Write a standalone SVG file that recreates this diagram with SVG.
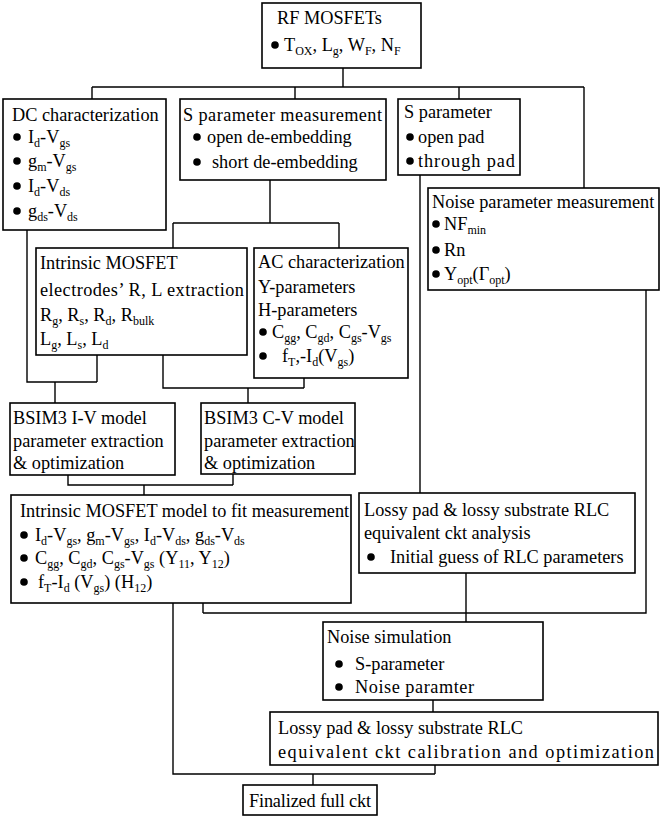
<svg xmlns="http://www.w3.org/2000/svg" width="662" height="818" viewBox="0 0 662 818">
<style>
text{font-family:"Liberation Serif","Times New Roman",serif;font-size:18.3px;fill:#000}
.s{font-size:12px}
.b{fill:#000;stroke:none}
rect{fill:#fff;stroke:#000;stroke-width:1.6}
#connectors path{fill:none;stroke:#000;stroke-width:1.4}
</style>
<defs><circle id="dot" class="b" r="3.8" cx="0" cy="0"/></defs>
<rect x="0" y="0" width="662" height="818" style="stroke:none"/>
<g id="connectors">
<path d="M343,68V87M92,87H584M92,87V99M295,87V99M459,87V99M584,87V188"/>
<path d="M270,180V223M173,223H339M173,223V248M339,223V248"/>
<path d="M420,175V493"/>
<path d="M646,290V613H203M203,603V613M466,573V622"/>
<path d="M433,700V712"/>
<path d="M27,230V382H97M97,355V382M55,382V403"/>
<path d="M163,355V388H304M304,378V388M248,388V403"/>
<path d="M68,475V485H233M233,473V485M144,485V495"/>
<path d="M173,603V774H435M435,765V774M313,774V785"/>
</g>
<g id="rf">
<rect x="262" y="3" width="159" height="65"/>
<text x="277" y="24">RF MOSFETs</text>
<use href="#dot" x="275" y="45"/>
<text x="284" y="51">T<tspan class="s" dy="4">OX</tspan><tspan dy="-4">, L</tspan><tspan class="s" dy="4">g</tspan><tspan dy="-4">, W</tspan><tspan class="s" dy="4">F</tspan><tspan dy="-4">, N</tspan><tspan class="s" dy="4">F</tspan></text>
</g>
<g id="dc">
<rect x="3" y="99" width="163" height="131"/>
<text x="12" y="121">DC characterization</text>
<use href="#dot" x="17" y="137"/>
<text x="28" y="143">I<tspan class="s" dy="4">d</tspan><tspan dy="-4">-V</tspan><tspan class="s" dy="4">gs</tspan></text>
<use href="#dot" x="17" y="161"/>
<text x="28" y="167">g<tspan class="s" dy="4">m</tspan><tspan dy="-4">-V</tspan><tspan class="s" dy="4">gs</tspan></text>
<use href="#dot" x="17" y="186"/>
<text x="28" y="192">I<tspan class="s" dy="4">d</tspan><tspan dy="-4">-V</tspan><tspan class="s" dy="4">ds</tspan></text>
<use href="#dot" x="17" y="211"/>
<text x="28" y="217">g<tspan class="s" dy="4">ds</tspan><tspan dy="-4">-V</tspan><tspan class="s" dy="4">ds</tspan></text>
</g>
<g id="smeas">
<rect x="180" y="99" width="206" height="81"/>
<text x="183" y="121" textLength="199" lengthAdjust="spacing">S parameter measurement</text>
<use href="#dot" x="197" y="137"/>
<text x="207" y="143">open de-embedding</text>
<use href="#dot" x="197" y="162"/>
<text x="212" y="168">short de-embedding</text>
</g>
<g id="spar">
<rect x="398" y="99" width="122" height="76"/>
<text x="404" y="118">S parameter</text>
<use href="#dot" x="410" y="137"/>
<text x="418" y="143">open pad</text>
<use href="#dot" x="410" y="161"/>
<text x="418" y="167" textLength="97" lengthAdjust="spacing">through pad</text>
</g>
<g id="noise">
<rect x="428" y="188" width="231" height="102"/>
<text x="432" y="208">Noise parameter measurement</text>
<use href="#dot" x="436" y="224"/>
<text x="444" y="230">NF<tspan class="s" dy="4">min</tspan></text>
<use href="#dot" x="436" y="250"/>
<text x="444" y="256">Rn</text>
<use href="#dot" x="436" y="274"/>
<text x="444" y="280">Y<tspan class="s" dy="4">opt</tspan><tspan dy="-4">(Γ</tspan><tspan class="s" dy="4">opt</tspan><tspan dy="-4">)</tspan></text>
</g>
<g id="intrinsic">
<rect x="36" y="248" width="211" height="107"/>
<text x="40" y="269">Intrinsic MOSFET</text>
<text x="40" y="296" textLength="204" lengthAdjust="spacing">electrodes’  R, L extraction</text>
<text x="40" y="321">R<tspan class="s" dy="4">g</tspan><tspan dy="-4">, R</tspan><tspan class="s" dy="4">s</tspan><tspan dy="-4">, R</tspan><tspan class="s" dy="4">d</tspan><tspan dy="-4">, R</tspan><tspan class="s" dy="4">bulk</tspan></text>
<text x="40" y="345">L<tspan class="s" dy="4">g</tspan><tspan dy="-4">, L</tspan><tspan class="s" dy="4">s</tspan><tspan dy="-4">, L</tspan><tspan class="s" dy="4">d</tspan></text>
</g>
<g id="ac">
<rect x="254" y="248" width="154" height="130"/>
<text x="258" y="268">AC characterization</text>
<text x="258" y="293">Y-parameters</text>
<text x="258" y="316">H-parameters</text>
<use href="#dot" x="263" y="332"/>
<text x="272" y="338">C<tspan class="s" dy="4">gg</tspan><tspan dy="-4">, C</tspan><tspan class="s" dy="4">gd</tspan><tspan dy="-4">, C</tspan><tspan class="s" dy="4">gs</tspan><tspan dy="-4">-V</tspan><tspan class="s" dy="4">gs</tspan></text>
<use href="#dot" x="263" y="356"/>
<text x="282" y="362">f<tspan class="s" dy="4">T</tspan><tspan dy="-4">,-I</tspan><tspan class="s" dy="4">d</tspan><tspan dy="-4">(V</tspan><tspan class="s" dy="4">gs</tspan><tspan dy="-4">)</tspan></text>
</g>
<g id="bsimiv">
<rect x="10" y="403" width="165" height="72"/>
<text x="13" y="424">BSIM3 I-V model</text>
<text x="13" y="447">parameter extraction</text>
<text x="13" y="469">&amp; optimization</text>
</g>
<g id="bsimcv">
<rect x="201" y="403" width="154" height="71"/>
<text x="204" y="424">BSIM3 C-V model</text>
<text x="204" y="447">parameter extraction</text>
<text x="204" y="469">&amp; optimization</text>
</g>
<g id="model">
<rect x="11" y="495" width="340" height="108"/>
<text x="20" y="517">Intrinsic MOSFET model to fit measurement</text>
<use href="#dot" x="24" y="535"/>
<text x="35" y="541">I<tspan class="s" dy="4">d</tspan><tspan dy="-4">-V</tspan><tspan class="s" dy="4">gs</tspan><tspan dy="-4">, g</tspan><tspan class="s" dy="4">m</tspan><tspan dy="-4">-V</tspan><tspan class="s" dy="4">gs</tspan><tspan dy="-4">, I</tspan><tspan class="s" dy="4">d</tspan><tspan dy="-4">-V</tspan><tspan class="s" dy="4">ds</tspan><tspan dy="-4">, g</tspan><tspan class="s" dy="4">ds</tspan><tspan dy="-4">-V</tspan><tspan class="s" dy="4">ds</tspan></text>
<use href="#dot" x="24" y="558"/>
<text x="35" y="564">C<tspan class="s" dy="4">gg</tspan><tspan dy="-4">, C</tspan><tspan class="s" dy="4">gd</tspan><tspan dy="-4">, C</tspan><tspan class="s" dy="4">gs</tspan><tspan dy="-4">-V</tspan><tspan class="s" dy="4">gs</tspan><tspan dy="-4"> (Y</tspan><tspan class="s" dy="4">11</tspan><tspan dy="-4">, Y</tspan><tspan class="s" dy="4">12</tspan><tspan dy="-4">)</tspan></text>
<use href="#dot" x="24" y="582"/>
<text x="38" y="588">f<tspan class="s" dy="4">T</tspan><tspan dy="-4">-I</tspan><tspan class="s" dy="4">d</tspan><tspan dy="-4"> (V</tspan><tspan class="s" dy="4">gs</tspan><tspan dy="-4">) (H</tspan><tspan class="s" dy="4">12</tspan><tspan dy="-4">)</tspan></text>
</g>
<g id="lossy1">
<rect x="359" y="493" width="276" height="80"/>
<text x="364" y="516">Lossy pad &amp; lossy substrate RLC</text>
<text x="364" y="539">equivalent ckt analysis</text>
<use href="#dot" x="371" y="557"/>
<text x="390" y="563">Initial guess of RLC parameters</text>
</g>
<g id="nsim">
<rect x="323" y="622" width="220" height="78"/>
<text x="327" y="643">Noise simulation</text>
<use href="#dot" x="339" y="664"/>
<text x="355" y="670">S-parameter</text>
<use href="#dot" x="339" y="687"/>
<text x="355" y="693" textLength="119" lengthAdjust="spacing">Noise paramter</text>
</g>
<g id="lossy2">
<rect x="270" y="712" width="388" height="53"/>
<text x="278" y="734" textLength="245" lengthAdjust="spacing">Lossy pad &amp; lossy substrate RLC</text>
<text x="278" y="758" textLength="376" lengthAdjust="spacing">equivalent ckt calibration and optimization</text>
</g>
<g id="final">
<rect x="243" y="785" width="134" height="30"/>
<text x="249" y="807" textLength="122" lengthAdjust="spacing">Finalized full ckt</text>
</g>
</svg>
